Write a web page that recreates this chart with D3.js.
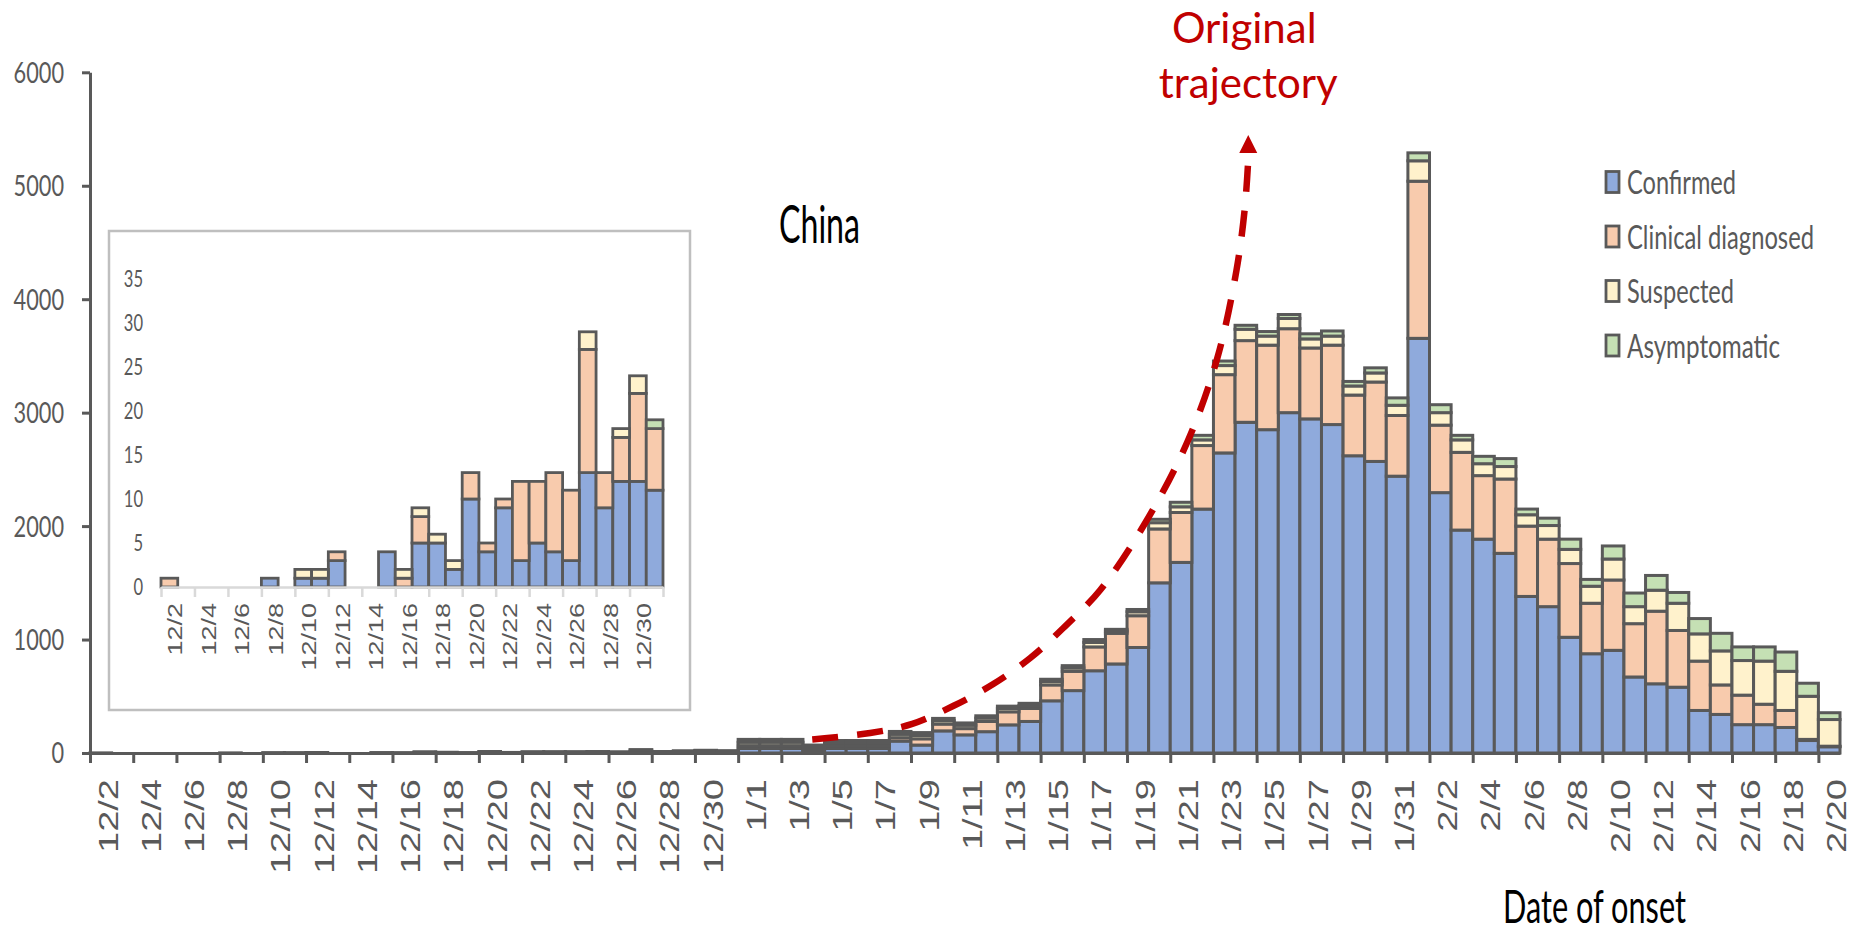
<!DOCTYPE html>
<html>
<head>
<meta charset="utf-8">
<script src="https://cdn.jsdelivr.net/npm/d3@7"></script>
<style>
  body { margin: 0; background: #fff; }
  svg { display: block; }
</style>
</head>
<body>
<svg id="chart" width="1860" height="930"></svg>
<script>
// Date of illness onset, 2 Dec to 20 Feb
const dates = [
  "12/2","12/3","12/4","12/5","12/6","12/7","12/8","12/9","12/10","12/11",
  "12/12","12/13","12/14","12/15","12/16","12/17","12/18","12/19","12/20","12/21",
  "12/22","12/23","12/24","12/25","12/26","12/27","12/28","12/29","12/30","12/31",
  "1/1","1/2","1/3","1/4","1/5","1/6","1/7","1/8","1/9","1/10",
  "1/11","1/12","1/13","1/14","1/15","1/16","1/17","1/18","1/19","1/20",
  "1/21","1/22","1/23","1/24","1/25","1/26","1/27","1/28","1/29","1/30","1/31",
  "2/1","2/2","2/3","2/4","2/5","2/6","2/7","2/8","2/9","2/10",
  "2/11","2/12","2/13","2/14","2/15","2/16","2/17","2/18","2/19","2/20"
];

// Case counts per onset day
const confirmed = [
  0,0,0,0,0,0,1,0,1,1,3,0,0,4,0,5,5,2,10,4,9,3,5,4,3,13,9,12,12,11,
  40,40,40,15,40,40,40,105,70,195,160,188,248,278,460,550,725,785,930,1500,
  1680,2150,2645,2915,2850,3000,2945,2895,2620,2570,2440,
  3655,2295,1965,1885,1760,1380,1290,1020,875,905,670,610,580,375,340,250,250,225,110,55
];
const clinical = [
  1,0,0,0,0,0,0,0,0,0,1,0,0,0,1,3,0,0,3,1,1,9,7,9,8,14,4,5,10,7,
  25,25,25,20,20,20,20,30,55,60,55,90,115,115,140,170,210,270,280,475,
  440,560,690,720,745,740,625,700,535,700,535,
  1385,595,685,560,655,620,595,650,445,620,470,640,500,435,260,260,180,150,10,5
];
const suspected = [
  0,0,0,0,0,0,0,0,1,1,0,0,0,0,1,1,1,1,0,0,0,0,0,0,0,2,0,1,2,0,
  30,30,30,20,25,25,25,30,30,30,30,30,30,25,30,30,40,20,35,55,
  50,50,80,100,80,90,80,80,80,80,90,
  180,110,110,105,110,100,120,125,150,185,150,185,240,240,300,305,380,345,380,235
];
const asymptomatic = [
  0,0,0,0,0,0,0,0,0,0,0,0,0,0,0,0,0,0,0,0,0,0,0,0,0,0,0,0,0,1,
  25,25,25,15,25,25,25,25,25,20,20,20,20,20,20,20,25,15,20,30,
  40,40,40,35,40,35,45,45,40,45,65,
  70,70,40,65,70,50,65,90,60,115,120,130,95,135,155,120,125,170,115,60
];

const seriesKeys = ["confirmed","clinical","suspected","asymptomatic"];
const seriesNames = ["Confirmed","Clinical diagnosed","Suspected","Asymptomatic"];
const seriesColors = ["#8faadc","#f8cbad","#fff2cc","#c5e0b4"];

const yTicks = [0,1000,2000,3000,4000,5000,6000];
const insetDays = 30;               // December panel
const insetYTicks = [0,5,10,15,20,25,30,35];

// Hand-drawn "original trajectory" path, in day position / case units
const trajPos = [33.43,36.11,38.06,39.95,41.81,43.52,45.05,46.76,48.84,50.79,52.18,53.06,53.45,53.61];
const trajVal = [119,176,256,414,608,837,1102,1437,2027,2741,3482,4249,4800,5230];
const trajTip = [53.61, 5447];
const trajBase = 5289;

const grey = "#595959";
const svg = d3.select("#chart");

const rows = dates.map((d, i) => ({
  date: d,
  confirmed: confirmed[i],
  clinical: clinical[i],
  suspected: suspected[i],
  asymptomatic: asymptomatic[i]
}));

// ---------- main panel ----------
const x = d3.scaleBand().domain(dates).range([90, 1840]).padding(0);
const xEdge = d3.scaleLinear().domain([0, dates.length]).range([90, 1840]);
const y = d3.scaleLinear().domain([0, 6000]).range([753, 72.3]);

const layers = d3.stack().keys(seriesKeys)(rows);

function drawBars(g, layerData, xs, ys, sw) {
  g.selectAll("g.layer").data(layerData).join("g")
    .attr("class", "layer")
    .attr("fill", (d, i) => seriesColors[i])
    .selectAll("rect")
    .data(d => d.filter(s => s[1] - s[0] > 0))
    .join("rect")
    .attr("x", s => xs(s.data.date))
    .attr("width", xs.bandwidth())
    .attr("y", s => ys(s[1]))
    .attr("height", s => ys(s[0]) - ys(s[1]))
    .attr("stroke", grey)
    .attr("stroke-width", sw);
}

drawBars(svg.append("g"), layers, x, y, 3);

// y axis
svg.append("g")
  .attr("transform", "translate(90,0)")
  .call(d3.axisLeft(y).tickValues(yTicks).tickSize(8).tickSizeOuter(0).tickFormat(""))
  .call(g => g.selectAll("path,line").attr("stroke", grey).attr("stroke-width", 3));

svg.append("g").selectAll("text").data(yTicks).join("text")
  .attr("transform", v => `translate(64,${y(v)}) scale(0.75,1)`)
  .attr("text-anchor", "end")
  .attr("dy", "0.36em")
  .attr("fill", grey)
  .style("font-family", "Lato, sans-serif")
  .style("font-size", "29px")
  .text(v => v);

// x axis
svg.append("g")
  .attr("transform", "translate(0,753)")
  .call(d3.axisBottom(xEdge).tickValues(d3.range(0, dates.length + 1, 2)).tickSize(10).tickSizeOuter(0).tickFormat(""))
  .call(g => g.selectAll("path,line").attr("stroke", grey).attr("stroke-width", 3));

const tickLabels = dates.filter((d, i) => i % 2 === 0);
svg.append("g").selectAll("text").data(tickLabels).join("text")
  .attr("transform", d => `translate(${x(d) + x.bandwidth() / 2 + 7},779) scale(0.74,1) rotate(-90)`)
  .attr("text-anchor", "end")
  .attr("dy", "0.35em")
  .attr("fill", grey)
  .style("font-family", "'Liberation Sans', Arial, sans-serif")
  .style("font-size", "38px")
  .text(d => d);

// ---------- December inset ----------
const inset = svg.append("g");
inset.append("rect")
  .attr("x", 109).attr("y", 231).attr("width", 581).attr("height", 479)
  .attr("fill", "#fff").attr("stroke", "#bfbfbf").attr("stroke-width", 2.5);

const insetDates = dates.slice(0, insetDays);
const xi = d3.scaleBand().domain(insetDates).range([161, 663]).padding(0);
const xiEdge = d3.scaleLinear().domain([0, insetDays]).range([161, 663]);
const yi = d3.scaleLinear().domain([0, 35]).range([587, 279]);
const insetLayers = d3.stack().keys(seriesKeys)(rows.slice(0, insetDays));

drawBars(inset.append("g"), insetLayers, xi, yi, 2.8);

inset.append("g")
  .attr("transform", "translate(0,587)")
  .call(d3.axisBottom(xiEdge).tickValues(d3.range(0, insetDays + 1, 2)).tickSize(10).tickSizeOuter(0).tickFormat(""))
  .call(g => g.selectAll("path,line").attr("stroke", "#d9d9d9").attr("stroke-width", 2.5));

inset.append("g").selectAll("text").data(insetYTicks).join("text")
  .attr("transform", v => `translate(143,${yi(v)}) scale(0.72,1)`)
  .attr("text-anchor", "end")
  .attr("dy", "0.36em")
  .attr("fill", grey)
  .style("font-family", "Lato, sans-serif")
  .style("font-size", "23px")
  .text(v => v);

inset.append("g").selectAll("text").data(insetDates.filter((d, i) => i % 2 === 0)).join("text")
  .attr("transform", d => `translate(${xi(d) + xi.bandwidth() / 2 + 6},603) scale(0.75,1) rotate(-90)`)
  .attr("text-anchor", "end")
  .attr("dy", "0.35em")
  .attr("fill", grey)
  .style("font-family", "'Liberation Sans', Arial, sans-serif")
  .style("font-size", "27px")
  .text(d => d);

// ---------- trajectory annotation ----------
const trajLine = d3.line()
  .x((d, i) => xEdge(trajPos[i]))
  .y((d, i) => y(trajVal[i]))
  .curve(d3.curveCatmullRom);

svg.append("path")
  .attr("d", trajLine(trajPos))
  .attr("fill", "none")
  .attr("stroke", "#c00000")
  .attr("stroke-width", 6.5)
  .attr("stroke-dasharray", "26 19");

const tipX = xEdge(trajTip[0]);
svg.append("path")
  .attr("d", `M${tipX},${y(trajTip[1])}L${tipX + 9},${y(trajBase)}L${tipX - 9},${y(trajBase)}Z`)
  .attr("fill", "#c00000");

const trajText = svg.append("text")
  .attr("text-anchor", "middle")
  .attr("fill", "#c00000")
  .style("font-family", "Lato, sans-serif")
  .style("font-size", "42px");
trajText.append("tspan").attr("x", tipX - 4).attr("y", 43).text("Original");
trajText.append("tspan").attr("x", tipX).attr("y", 98).text("trajectory");

// ---------- titles ----------
svg.append("text")
  .attr("x", 779).attr("y", 243)
  .attr("textLength", 81).attr("lengthAdjust", "spacingAndGlyphs")
  .attr("fill", "#000")
  .style("font-family", "Lato, sans-serif").style("font-size", "52px")
  .text("China");

svg.append("text")
  .attr("x", 1503).attr("y", 923)
  .attr("textLength", 183).attr("lengthAdjust", "spacingAndGlyphs")
  .attr("fill", "#000")
  .style("font-family", "Lato, sans-serif").style("font-size", "46px")
  .text("Date of onset");

// ---------- legend ----------
const legendY = d3.scalePoint().domain(seriesNames).range([182, 345.5]);
const legendWidths = [109, 187, 107, 153];
const legend = svg.append("g").selectAll("g").data(seriesNames).join("g")
  .attr("transform", d => `translate(1606,${legendY(d)})`);
legend.append("rect")
  .attr("x", 0).attr("y", -10.5).attr("width", 13).attr("height", 21)
  .attr("fill", (d, i) => seriesColors[i])
  .attr("stroke", grey).attr("stroke-width", 2.8);
legend.append("text")
  .attr("x", 21).attr("y", 12)
  .attr("textLength", (d, i) => legendWidths[i]).attr("lengthAdjust", "spacingAndGlyphs")
  .attr("fill", grey)
  .style("font-family", "Lato, sans-serif").style("font-size", "33px")
  .text(d => d);
</script>
</body>
</html>
